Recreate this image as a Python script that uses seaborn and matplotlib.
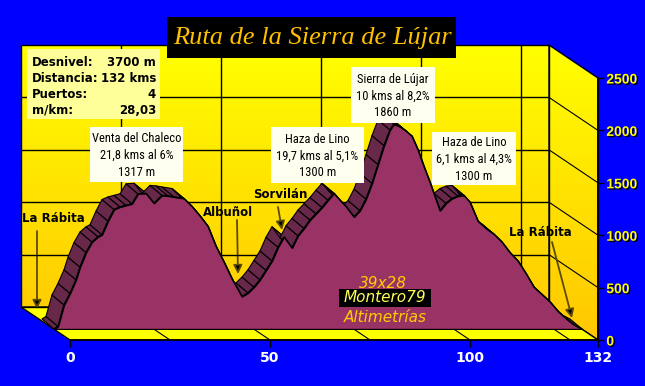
import numpy as np
import matplotlib
matplotlib.use("Agg")
import matplotlib.pyplot as plt
import seaborn as sns
from matplotlib.patches import Polygon, Rectangle
from matplotlib.collections import PolyCollection
from matplotlib import patheffects as pe
from matplotlib import font_manager as fm

# profile (km, m)
dist_km = [0, 1, 2.5, 4, 5.5, 6.5, 8, 9.5, 11, 12, 13.5, 15, 16.5, 18, 19.5, 21, 23,
           25, 27, 28.5, 30, 32.5, 34.5, 36.5, 38.5, 40.5, 42.5, 44.5, 47, 48.5, 50,
           51.5, 53, 54.5, 56, 57.5, 59.5, 61, 62.5, 64, 65.5, 67, 68.5, 70, 71.5, 73,
           75, 76.5, 78, 79.5, 81, 82.5, 84, 85, 86.5, 88, 89.5, 91, 92.5, 94, 96.5,
           98, 99.5, 101, 102.5, 104, 106, 108, 110, 112, 114, 116, 118, 120, 122,
           124, 126, 128, 130, 132]
alt_m = [0, 25, 230, 340, 470, 590, 730, 830, 880, 900, 1030, 1140, 1165, 1180, 1195,
         1290, 1295, 1200, 1275, 1270, 1260, 1245, 1170, 1080, 980, 790, 640, 480, 310,
         345, 400, 470, 560, 650, 780, 880, 775, 890, 960, 1040, 1100, 1160, 1230, 1295,
         1230, 1170, 1070, 1130, 1240, 1390, 1570, 1750, 1900, 1955, 1930, 1890, 1840,
         1710, 1550, 1400, 1130, 1200, 1245, 1268, 1275, 1210, 1030, 960, 905, 830, 730,
         650, 530, 400, 330, 260, 170, 100, 40, 0]

y_ticks = [0, 500, 1000, 1500, 2000, 2500]
x_ticks = [0, 50, 100, 132]
back_grid_x = [25, 50, 75, 100, 125]

title = "Ruta de la Sierra de Lújar"
stats_labels = ["Desnivel:", "Distancia:", "Puertos:", "m/km:"]
stats_values = ["3700 m", "132 kms", "4", "28,03"]
callouts = [
    ("Venta del Chaleco\n21,8 kms al 6%\n1317 m", (90, 127, 183, 182)),
    ("Haza de Lino\n19,7 kms al 5,1%\n1300 m", (271, 127, 364, 183)),
    ("Sierra de Lújar\n10 kms al 8,2%\n1860 m", (351, 67, 435, 123)),
    ("Haza de Lino\n6,1 kms al 4,3%\n1300 m", (432, 132, 516, 185)),
]
places = [
    ("La Rábita", (53, 219), (37, 231), (37, 309)),
    ("Albuñol", (228, 213), (237, 220), (238, 274)),
    ("Sorvilán", (280, 194), (278, 207), (282, 230)),
    ("La Rábita", (540, 232), (552, 242), (572, 318)),
]

W, H = 645, 386
BLUE = "#0000FF"
FACE = "#993366"
TOP = "#68284A"

sns.set_theme(style="white")
plt.rcParams["font.family"] = ["Liberation Sans", "DejaVu Sans"]

# a narrow face for the pass callouts, if one is installed
names = {f.name for f in fm.fontManager.ttflist}
narrow = [n for n in ("Liberation Sans Narrow", "DejaVu Sans Condensed", "Roboto Condensed")
          if n in names]
if narrow:
    call_font, call_size = narrow[0], 9
else:
    call_font, call_size = "Liberation Sans", 7.8


def rect(x0, y0, x1, y1):
    return [x0 / W, 1 - y1 / H, (x1 - x0) / W, (y1 - y0) / H]


def P(x, y):
    return (x / W, 1 - y / H)


fig = plt.figure(figsize=(W / 100, H / 100), dpi=100, facecolor=BLUE)

# canvas in display pixels for the box walls
axc = fig.add_axes([0, 0, 1, 1], zorder=0)
axc.set_xlim(0, W); axc.set_ylim(0, H); axc.axis("off")

axb = fig.add_axes(rect(21, 45, 549, 307), zorder=1)   # back wall
axs = fig.add_axes(rect(54, 67, 582, 329), zorder=2)   # series plane
axf = fig.add_axes(rect(70, 78, 598, 340), zorder=3)   # front axes
for a in (axb, axs, axf):
    a.set_xlim(0, 132); a.set_ylim(0, 2500)
    a.patch.set_alpha(0)

bl = axb.transData.transform
fr = axf.transData.transform

# walls with a yellow->orange gradient
grad = np.linspace(0, 1, 256)[:, None]
cols = np.dstack([np.ones_like(grad), 1 - 0.22 * grad, np.zeros_like(grad)])
top_y, bot_y = bl((0, 2500))[1], fr((0, 0))[1]
back_poly = Polygon([bl((0, 0)), bl((132, 0)), bl((132, 2500)), bl((0, 2500))],
                    closed=True, fc="none", ec="none", transform=axc.transData)
side_poly = Polygon([bl((132, 0)), bl((132, 2500)), fr((132, 2500)), fr((132, 0))],
                    closed=True, fc="none", ec="black", lw=1, transform=axc.transData)
axc.add_patch(back_poly); axc.add_patch(side_poly)
for clip in (back_poly, side_poly):
    im = axc.imshow(cols, extent=(0, W, bot_y, top_y), aspect="auto", zorder=0)
    im.set_clip_path(clip)
side_poly.set_zorder(2)

floor = Polygon([bl((0, 0)), bl((132, 0)), fr((132, 0)), fr((0, 0))], closed=True,
                fc="#FFFF00", ec="black", lw=1, zorder=2)
axc.add_patch(floor)
for x in back_grid_x:
    b, f = bl((x, 0)), fr((x, 0))
    axc.plot([b[0], f[0]], [b[1], f[1]], color="black", lw=0.8, zorder=3)
for y in y_ticks[1:-1]:
    b, f = bl((132, y)), fr((132, y))
    axc.plot([b[0], f[0]], [b[1], f[1]], color="black", lw=0.8, zorder=3)

# back wall grid
axb.set_xticks(back_grid_x); axb.set_yticks(y_ticks[1:-1])
axb.grid(True, color="black", lw=1)
axb.tick_params(length=0, labelbottom=False, labelleft=False)
for s in axb.spines.values():
    s.set_color("black"); s.set_linewidth(1)

# 3D area: top surface strips then the front face
pts = axs.transData.transform(np.column_stack([dist_km, alt_m]))
back = axs.transData.inverted().transform(pts + np.array([-12, 10]))
front = np.column_stack([dist_km, alt_m])
quads = [[front[i], front[i + 1], back[i + 1], back[i]] for i in range(len(front) - 1)]
axs.add_collection(PolyCollection(quads, facecolors=TOP, edgecolors="black",
                                  linewidths=0.8, zorder=2, clip_on=False))
axs.fill_between(dist_km, alt_m, 0, color=FACE, edgecolor="black", lw=1, zorder=3)
sns.lineplot(x=dist_km, y=alt_m, ax=axs, color="black", linewidth=1, zorder=4)
axs.axis("off")

# front axes: km and altitude labels
sns.despine(ax=axf, left=True, top=True, right=False, bottom=False)
for s in ("right", "bottom"):
    axf.spines[s].set_color("black"); axf.spines[s].set_linewidth(1.2)
axf.set_xticks(x_ticks); axf.set_xticklabels([str(v) for v in x_ticks])
axf.set_yticks(y_ticks); axf.set_yticklabels([str(v) for v in y_ticks])
axf.yaxis.tick_right()
axf.tick_params(axis="y", length=4, width=1, color="black", pad=2, labelsize=10,
                labelcolor="#FFFF00", right=True, left=False)
axf.tick_params(axis="x", length=5, width=1, color="black", pad=3, labelsize=10,
                labelcolor="white", bottom=True)
for t in axf.get_yticklabels():
    t.set_fontweight("bold")
    t.set_path_effects([pe.withSimplePatchShadow(offset=(1, -1), shadow_rgbFace="black", alpha=0.9)])
for t in axf.get_xticklabels():
    t.set_fontweight("bold"); t.set_family("DejaVu Sans")

# title
fig.patches.append(Rectangle(P(167, 58), 289 / W, 41 / H, transform=fig.transFigure,
                             fc="black", ec="none", zorder=5))
fig.text(*P(312, 38), title, ha="center", va="center", fontsize=19, style="italic",
         family=["Liberation Serif", "DejaVu Serif"], color="#FFC000", zorder=6)

# statistics box
fig.patches.append(Rectangle(P(27, 119), 133 / W, 70 / H, transform=fig.transFigure,
                             fc="#FFFF99", ec="none", zorder=5))
for i, (lab, val) in enumerate(zip(stats_labels, stats_values)):
    y = 62 + i * 16
    fig.text(*P(32, y), lab, ha="left", va="center", fontsize=8.5, fontweight="bold",
             family="DejaVu Sans", color="black", zorder=6)
    fig.text(*P(156, y), val, ha="right", va="center", fontsize=8.5, fontweight="bold",
             family="DejaVu Sans", color="black", zorder=6)

# pass callouts
for txt, (x0, y0, x1, y1) in callouts:
    fig.patches.append(Rectangle(P(x0, y1), (x1 - x0) / W, (y1 - y0) / H,
                                 transform=fig.transFigure, fc="#FFFFF0", ec="none", zorder=5))
    fig.text(*P((x0 + x1) / 2, (y0 + y1) / 2 + 1), txt, ha="center", va="center",
             fontsize=call_size, linespacing=1.35, family=call_font,
             color="black", zorder=6)

# towns with arrows
for name, tpos, a0, a1 in places:
    fig.text(*P(*tpos), name, ha="center", va="center", fontsize=8.5, fontweight="bold",
             family="DejaVu Sans", color="black", zorder=6)
    axc.annotate("", xy=(a1[0], H - a1[1]), xytext=(a0[0], H - a0[1]), zorder=7,
                 arrowprops=dict(arrowstyle="-|>", lw=1.3, ec="#5C4A00", fc="black",
                                 mutation_scale=13, shrinkA=0, shrinkB=0))

# signature
fig.text(*P(383, 283), "39x28", ha="center", va="center", fontsize=11, style="italic",
         family="DejaVu Sans", color="#FFCC00", zorder=6)
fig.patches.append(Rectangle(P(339, 307), 92 / W, 18 / H, transform=fig.transFigure,
                             fc="black", ec="none", zorder=5))
fig.text(*P(385, 298), "Montero79", ha="center", va="center", fontsize=11, style="italic",
         family="DejaVu Sans", color="#FFFF55", zorder=6)
fig.text(*P(385, 317), "Altimetrías", ha="center", va="center", fontsize=11, style="italic",
         family="DejaVu Sans", color="#FFCC00", zorder=6)

fig.savefig("out.png", dpi=100, facecolor=BLUE)
